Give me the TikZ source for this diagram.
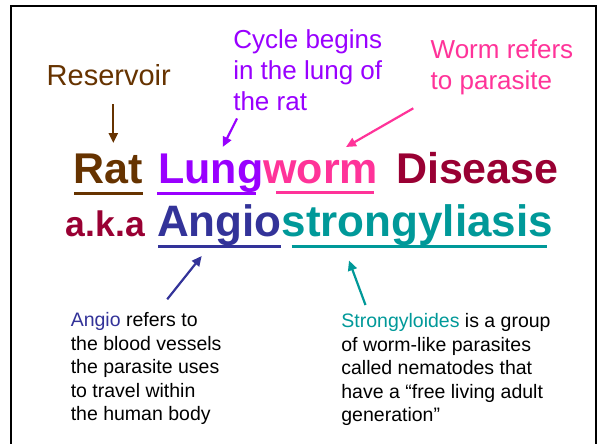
\documentclass[tikz,border=0pt]{standalone}
\usepackage{fontspec}
\setmainfont{Liberation Sans}
\usetikzlibrary{arrows.meta}
\definecolor{cBrown}{HTML}{663300}
\definecolor{cPurple}{HTML}{9900FF}
\definecolor{cPink}{HTML}{FF3399}
\definecolor{cRed}{HTML}{990033}
\definecolor{cNavy}{HTML}{333399}
\definecolor{cTeal}{HTML}{009999}
\begin{document}
\begin{tikzpicture}[x=1pt,y=-1pt,
  word/.style={anchor=base west,inner sep=0pt,outer sep=0pt},
  bigword/.style={word,font=\bfseries\fontsize{43}{50}\selectfont},
  hugeword/.style={word,font=\bfseries\fontsize{44}{50}\selectfont},
  akaword/.style={word,font=\bfseries\fontsize{35.5}{40}\selectfont},
  note/.style={word,align=left,font=\fontsize{26}{31.2}\selectfont},
  body/.style={word,align=left,font=\fontsize{19.5}{23.5}\selectfont},
  uline/.style={line width=3pt},
  pointer/.style={line width=2.2pt,-{Triangle[length=10pt,width=9pt]}},
  frame/.style={line width=2.3pt,draw=black}]
\useasboundingbox (0,0) rectangle (600,444);
\fill[white] (0,0) rectangle (600,444);
\draw[frame] (11,6.2) rectangle (596.2,470);
% annotations on top (multi-line nodes anchored at the last baseline)
\node[word,text=cBrown,font=\fontsize{29}{34}\selectfont] (reservoir) at (46.7,85.7) {Reservoir};
\node[note,text=cPurple] (cycle) at (233.3,110.7) {Cycle begins\\in the lung of\\the rat};
\node[note,text=cPink] (wormnote) at (430.7,89.3) {Worm refers\\to parasite};
% title line
\node[bigword,text=cBrown] (rat) at (73.3,183) {Rat};
\node[bigword,text=cPurple] (lung) at (158.3,183) {Lung};
\node[bigword,text=cPink] (worm) at (lung.base east) {worm};
\node[bigword,text=cRed] (disease) at (396,183) {Disease};
% second line
\node[akaword,text=cRed] (aka) at (65.8,236.7) {a.k.a};
\node[hugeword,text=cNavy] (angio) at (157,236.7) {Angio};
\node[hugeword,text=cTeal] (strong) at (angio.base east) {strongyliasis};
% underlines
\draw[uline,cBrown] (74.3,193) -- (143.3,193);
\draw[uline,cPurple] (157,193) -- (256,193);
\draw[uline,cPink] (276,192.5) -- (374,192.5);
\draw[uline,cNavy] (158,246.5) -- (280.5,246.5);
\draw[uline,cTeal] (291.6,246.5) -- (546.5,246.5);
% explanation blocks
\node[body] (angionote) at (70.8,420.7) {{\color{cNavy}Angio} refers to\\the blood vessels\\the parasite uses\\to travel within\\the human body};
\node[body] (strongnote) at (341.4,421.7) {{\color{cTeal}Strongyloides} is a group\\of worm-like parasites\\called nematodes that\\have a “free living adult\\generation”};
% arrow end points
\coordinate (resA) at (113.3,104);
\coordinate (resB) at (113.3,143);
\coordinate (cycA) at (237,118.5);
\coordinate (cycB) at (222.7,147);
\coordinate (wormA) at (413.3,108.3);
\coordinate (wormB) at (346,147);
\coordinate (angA) at (167.2,299.3);
\coordinate (angB) at (201.7,256);
\coordinate (strA) at (365.5,305);
\coordinate (strB) at (349,260.5);
\draw[pointer,cBrown] (resA) -- (resB);
\draw[pointer,cPurple] (cycA) -- (cycB);
\draw[pointer,cPink] (wormA) -- (wormB);
\draw[pointer,cNavy] (angA) -- (angB);
\draw[pointer,cTeal] (strA) -- (strB);
\end{tikzpicture}
\end{document}
